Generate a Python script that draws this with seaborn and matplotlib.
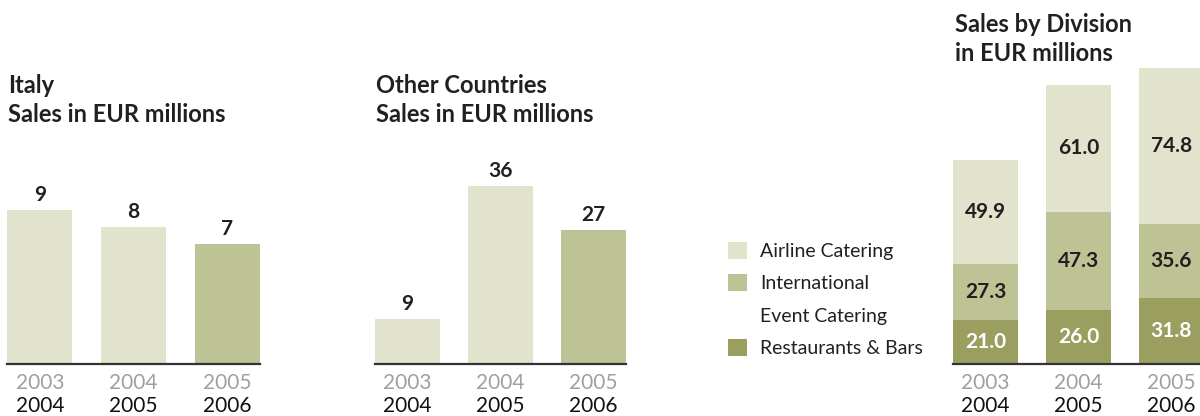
import numpy as np
import pandas as pd
import matplotlib
matplotlib.use("Agg")
import matplotlib.pyplot as plt
import seaborn as sns
from matplotlib.patches import Patch

# ---------------- data ----------------
years_prev = ["2003", "2004", "2005"]
years = ["2004", "2005", "2006"]
italy = [9, 8, 7]
other = [9, 36, 27]
restaurants = [21.0, 26.0, 31.8]
international = [27.3, 47.3, 35.6]
airline = [49.9, 61.0, 74.8]
divisions = ["Airline Catering", "International\nEvent Catering", "Restaurants & Bars"]
titles = ["Italy\nSales in EUR millions",
          "Other Countries\nSales in EUR millions",
          "Sales by Division\nin EUR millions"]

LIGHT = "#e1e3cd"
MID = "#bdc395"
DARK = "#9a9f60"
TEXT = "#231f20"
GRAY = "#a0a0a0"

sns.set_theme(style="white")
plt.rcParams['font.family'] = ['Lato', 'DejaVu Sans']

W, H = 1200, 416
BASE = 364
fig = plt.figure(figsize=(W / 100, H / 100), dpi=100)

VAL_FS = 15
YEAR_FS = 15


def add_ax(x0, x1, ytop):
    return fig.add_axes([x0 / W, (H - BASE) / H, (x1 - x0) / W, (BASE - ytop) / H])


def style_ax(ax, ymax):
    ax.set_xlim(-0.35, 2.35)
    ax.set_ylim(0, ymax)
    for s in ["top", "left", "right"]:
        ax.spines[s].set_visible(False)
    ax.spines["bottom"].set_color("#333333")
    ax.spines["bottom"].set_linewidth(1.6)
    ax.spines["bottom"].set_zorder(5)
    ax.tick_params(length=0, labelbottom=False, labelleft=False)
    ax.set_xlabel("")
    ax.set_ylabel("")
    ax.patch.set_alpha(0)
    tr = ax.get_xaxis_transform()
    for i in range(3):
        ax.annotate(years_prev[i], xy=(i, 0), xycoords=tr, xytext=(0, -19),
                    textcoords="offset pixels", ha="center", va="center",
                    fontsize=YEAR_FS, color=GRAY)
        ax.annotate(years[i], xy=(i, 0), xycoords=tr, xytext=(0, -42),
                    textcoords="offset pixels", ha="center", va="center",
                    fontsize=YEAR_FS, color="#111111")


ax_top = {}


def simple_panel(ax, values, scale):
    df = pd.DataFrame({"year": years, "value": values})
    sns.barplot(data=df, x="year", y="value", hue="year",
                palette=[LIGHT, LIGHT, MID], width=0.69, saturation=1,
                legend=False, linewidth=0, ax=ax)
    style_ax(ax, (BASE - ax_top[id(ax)]) / scale)
    for i, v in enumerate(values):
        ax.annotate(f"{v}", xy=(i, v), xytext=(0, 9), textcoords="offset pixels",
                    ha="center", va="baseline", fontsize=VAL_FS, fontweight="bold",
                    color=TEXT)


ax1 = add_ax(7, 260, 108); ax_top[id(ax1)] = 108
ax2 = add_ax(375, 626, 108); ax_top[id(ax2)] = 108
ax3 = add_ax(953, 1204, 60); ax_top[id(ax3)] = 60

simple_panel(ax1, italy, 17.1)
simple_panel(ax2, other, 4.95)

# stacked panel (cumulative totals drawn back to front)
tot = [a + b + c for a, b, c in zip(airline, international, restaurants)]
mid_cum = [b + c for b, c in zip(international, restaurants)]
for vals, col in [(tot, LIGHT), (mid_cum, MID), (restaurants, DARK)]:
    df = pd.DataFrame({"year": years, "value": vals})
    sns.barplot(data=df, x="year", y="value", color=col, width=0.69,
                saturation=1, linewidth=0, ax=ax3)
style_ax(ax3, (BASE - 60) / 2.08)
for i in range(3):
    c, b, a = restaurants[i], international[i], airline[i]
    ax3.text(i, c / 2, f"{c:.1f}", ha="center", va="center", fontsize=VAL_FS,
             fontweight="bold", color="white")
    ax3.text(i, c + b / 2, f"{b:.1f}", ha="center", va="center", fontsize=VAL_FS,
             fontweight="bold", color=TEXT)
    ax3.text(i, c + b + a / 2, f"{a:.1f}", ha="center", va="center", fontsize=VAL_FS,
             fontweight="bold", color=TEXT)

# titles (each line placed on its baseline)
for x, y0, t in [(8, 93, titles[0]), (376, 93, titles[1]), (955, 32, titles[2])]:
    for k, line in enumerate(t.split("\n")):
        fig.text(x / W, 1 - (y0 + 29 * k) / H, line, ha="left", va="baseline",
                 fontsize=17, fontweight="bold", color=TEXT)

# legend: multi-line label split so the swatch sits next to its first line
colors = [LIGHT, MID, DARK]
handles, labels = [], []
for name, col in zip(divisions, colors):
    for k, line in enumerate(name.split("\n")):
        handles.append(Patch(facecolor=col if k == 0 else "none",
                             edgecolor="none"))
        labels.append(line)
leg = fig.legend(handles=handles, labels=labels, loc="upper left",
                 bbox_to_anchor=(728 / W, 1 - 242 / H), frameon=False,
                 fontsize=14, handlelength=0.98, handleheight=0.98,
                 handletextpad=0.67, labelspacing=0.72, borderpad=0,
                 borderaxespad=0)
for t in leg.get_texts():
    t.set_color(TEXT)

fig.savefig("out.png", dpi=100)
